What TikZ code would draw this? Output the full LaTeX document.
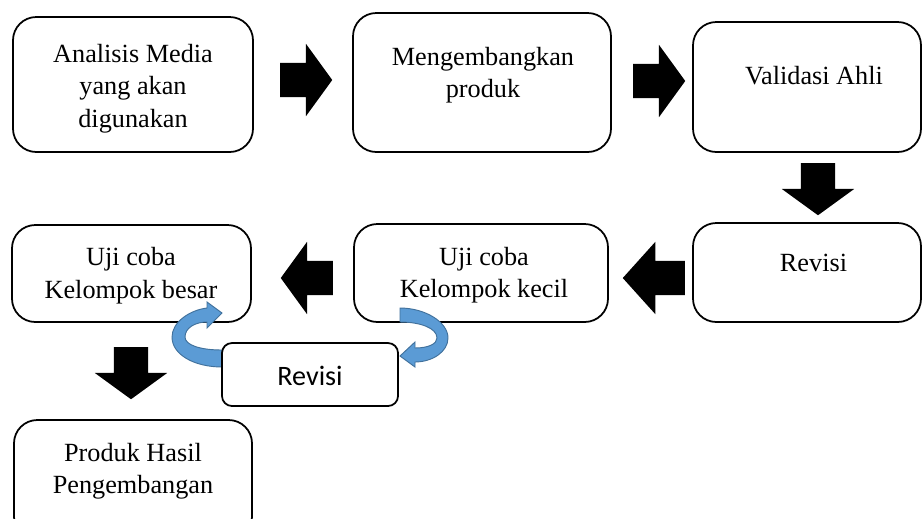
\documentclass[tikz,border=0pt]{standalone}
\usepackage{fontspec}
\setmainfont{Liberation Serif}
\newfontfamily\calibri{Carlito}
\usetikzlibrary{shapes.arrows}
\definecolor{pitabiru}{HTML}{5B9BD5}
\definecolor{tepibiru}{HTML}{41719C}
\tikzset{
  kotak/.style={draw,line width=1.5pt,rounded corners=.7cm,fill=white,inner sep=0pt},
  teks/.style={align=center,inner sep=0pt,font=\fontsize{22.4pt}{27.7pt}\selectfont},
  blok/.style={single arrow,fill=black,inner sep=0pt,inner ysep=.51cm,minimum height=1.56cm,
    single arrow head extend=.57cm,single arrow head indent=0pt,single arrow tip angle=108,anchor=tail},
  pita/.style={fill=pitabiru,draw=tepibiru,line width=.8pt}
}
\begin{document}
\begin{tikzpicture}[x=.03cm,y=-.03cm]
\useasboundingbox (0,0) rectangle (923,518);
\clip (0,0) rectangle (923,518);
% kotak
\node[kotak,minimum width=7.2cm,minimum height=4.05cm] (analisis) at (133,84.5) {};
\node[kotak,minimum width=7.74cm,minimum height=4.17cm] (kembang) at (482,82.5) {};
\node[kotak,minimum width=6.84cm,minimum height=3.9cm] (validasi) at (807,87) {};
\node[kotak,minimum width=6.84cm,minimum height=2.97cm] (revisiA) at (807,272.5) {};
\node[kotak,minimum width=7.62cm,minimum height=2.94cm] (kecil) at (481,273) {};
\node[kotak,minimum width=7.17cm,minimum height=2.91cm] (besar) at (131.5,273.5) {};
\node[kotak,minimum width=7.14cm,minimum height=3.6cm] (produk) at (133,480) {};
\node[teks] (analisis-t) at (133,88.5) {Analisis Media\\yang akan\\digunakan};
\node[teks] (kembang-t) at (483,75) {Mengembangkan\\produk};
\node[teks] (validasi-t) at (814,76) {Validasi Ahli};
\node[teks] (revisiA-t) at (813.5,263) {Revisi};
\node[teks] (kecil-t) at (484,275) {Uji coba\\Kelompok kecil};
\node[teks] (besar-t) at (131,275.5) {Uji coba\\Kelompok besar};
\node[teks] (produk-t) at (133,471) {Produk Hasil\\Pengembangan};
% panah blok
\node[blok] (p1) at (280,80) {};
\node[blok] (p2) at (633,81) {};
\node[blok,rotate=-90] (p3) at (818,163) {};
\node[blok,shape border rotate=180,minimum height=1.86cm,single arrow tip angle=96] (p4) at (685,278) {};
\node[blok,shape border rotate=180] (p5) at (333,278) {};
\node[blok,rotate=-90] (p6) at (131,347) {};
% panah lengkung
\draw[pita] (207,308) .. controls (190,310) and (172,322) .. (172,337)
  .. controls (172,355) and (195,367) .. (222,367) -- (222,350)
  .. controls (200,350) and (185,345) .. (185,337)
  .. controls (185,328) and (195,322) .. (207,322) -- (207,328) -- (222,313) -- (207,302) -- cycle;
\draw[pita] (400,308) .. controls (425,308) and (448,322) .. (448,338)
  .. controls (448,352) and (432,362) .. (415,362) -- (415,367) -- (400,356) -- (415,342) -- (415,348)
  .. controls (428,348) and (437,344) .. (437,338)
  .. controls (437,328) and (420,322) .. (400,322) -- cycle;
\node[kotak,rounded corners=.3cm,minimum width=5.28cm,minimum height=1.89cm] (revisiB) at (310,374.5) {};
\node[teks,font=\calibri\fontsize{24pt}{28pt}\selectfont] (revisiB-t) at (310,376) {Revisi};
\end{tikzpicture}
\end{document}
